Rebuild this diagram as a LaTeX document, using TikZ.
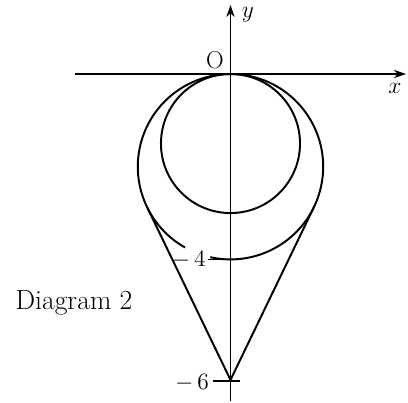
\documentclass[tikz,border=0pt]{standalone}
\usetikzlibrary{arrows.meta,calc}
\tikzset{
axis/.style={
-{Stealth[length=2.6mm,width=1.8mm]},
line width=0.8pt
},
curve/.style={
line width=1.2pt
},
tickmark/.style={
line width=0.9pt
},
lbl/.style={
font=\fontsize{15}{17}\selectfont,
inner sep=1pt
}
}
\begin{document}
\begin{tikzpicture}
\useasboundingbox (-4.973,-7.098) rectangle (3.830,1.597);
\coordinate (O) at (0,0);
\coordinate (C) at (0,-2);
\coordinate (c) at (0,-1.5);
\coordinate (P) at (0,-6.6);
\coordinate (xl) at (-3.355,0);
\coordinate (xr) at (3.786,0);
\coordinate (yb) at (0,-7.055);
\coordinate (yt) at (0,1.489);

% axes
\draw[axis](xl)--(xr);
\draw[axis](yb)--(yt);
\node[lbl](xlab) at (3.549,-0.309){$x$};
\node[lbl](ylab) at (0.373,1.273){$y$};
\node[lbl](olab) at (-0.334,0.302){O};

% small circle
\draw[curve](c) circle[radius=1.5];

% big circle with tangents from P
\pgfmathsetmacro{\ta}{acos(2/4.6)}
\coordinate (TL) at ($(C)+({270-\ta}:2)$);
\coordinate (TR) at ($(C)+({270+\ta}:2)$);
\draw[curve](TL)--(P)--(TR);
\draw[curve]($(C)+(257.4:2)$) arc[start angle=257.4,end angle=600.6,radius=2];

% ticks
\coordinate (t4) at (-0.48,-4);
\coordinate (t4r) at (0,-4);
\coordinate (t6) at (-0.38,-6.62);
\coordinate (t6r) at (0.205,-6.62);
\draw[tickmark](t4)--(t4r);
\draw[tickmark](t6)--(t6r);
\node[lbl](m4) at (-0.9,-4.02){$-\,4$};
\node[lbl](m6) at (-0.83,-6.67){$-\,6$};

\node[font=\fontsize{17}{20}\selectfont](cap) at (-3.376,-4.94){Diagram 2};
\end{tikzpicture}
\end{document}
